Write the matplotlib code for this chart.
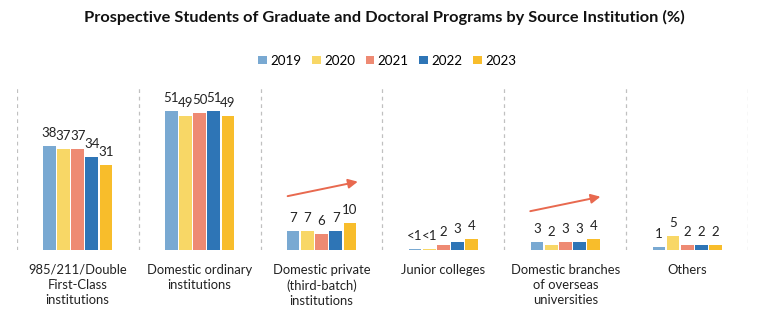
import matplotlib
matplotlib.use("Agg")
import matplotlib.pyplot as plt
import numpy as np

plt.rcParams["font.family"] = ["Lato", "DejaVu Sans"]

categories = ["985/211/Double\nFirst-Class\ninstitutions",
              "Domestic ordinary\ninstitutions",
              "Domestic private\n(third-batch)\ninstitutions",
              "Junior colleges",
              "Domestic branches\nof overseas\nuniversities",
              "Others"]
years = ["2019", "2020", "2021", "2022", "2023"]
colors = ["#79a9d2", "#f8d766", "#ee8a73", "#2e75b6", "#f8bd2b"]

# share (%) per year, one list per year across the categories
v2019 = [38, 51, 7, 0.4, 3, 1]
v2020 = [37, 49, 7, 0.4, 2, 5]
v2021 = [37, 50, 6, 2, 3, 2]
v2022 = [34, 51, 7, 3, 3, 2]
v2023 = [31, 49, 10, 4, 4, 2]
labels2019 = ["38", "51", "7", "<1", "3", "1"]
labels2020 = ["37", "49", "7", "<1", "2", "5"]
labels2021 = ["37", "50", "6", "2", "3", "2"]
labels2022 = ["34", "51", "7", "3", "3", "2"]
labels2023 = ["31", "49", "10", "4", "4", "2"]

series = [v2019, v2020, v2021, v2022, v2023]
texts = [labels2019, labels2020, labels2021, labels2022, labels2023]

fig = plt.figure(figsize=(7.68, 3.23), dpi=100)
ax = fig.add_axes([0.0217, 0.226, 0.9526, 0.5077])

x = np.arange(len(categories))
slot = 0.1164
width = 0.104
for k, (vals, labs) in enumerate(zip(series, texts)):
    pos = x + (k - 2) * slot
    ax.bar(pos, vals, width, color=colors[k], label=years[k])
    for px, v, t in zip(pos, vals, labs):
        ax.annotate(t, (px, v), xytext=(0, 5), textcoords="offset points",
                    ha="center", va="bottom", fontsize=9.5, color="#222222")

# dashed separators between groups
for b in np.arange(-0.5, len(categories), 1):
    ax.axvline(b, color="#c0c0c0", lw=0.9, ls=(0, (3, 3)))

# trend arrows
arrow = dict(arrowstyle="-|>", color="#e8694f", lw=1.4, mutation_scale=14)
ax.annotate("", xy=(2.32, 25.2), xytext=(1.70, 19.5), arrowprops=arrow)
ax.annotate("", xy=(4.31, 19.7), xytext=(3.69, 14.0), arrowprops=arrow)

ax.set_xlim(-0.5, len(categories) - 0.5)
ax.set_ylim(0, 60)
ax.set_xticks(x)
ax.set_xticklabels(categories, fontsize=9.4, linespacing=1.32, color="#222222")
ax.tick_params(axis="x", length=0, pad=10)
ax.set_yticks([])
for s in ax.spines.values():
    s.set_visible(False)

fig.legend(loc="center", bbox_to_anchor=(0.504, 0.812), ncol=5, frameon=False,
           fontsize=9.6, handlelength=0.65, handleheight=0.65, handletextpad=0.25,
           columnspacing=0.8)
fig.suptitle("Prospective Students of Graduate and Doctoral Programs by Source Institution (%)",
             x=0.5, y=0.945, va="center", fontsize=11.8, fontweight="bold", color="#111111")

fig.savefig("out.png", dpi=100)
